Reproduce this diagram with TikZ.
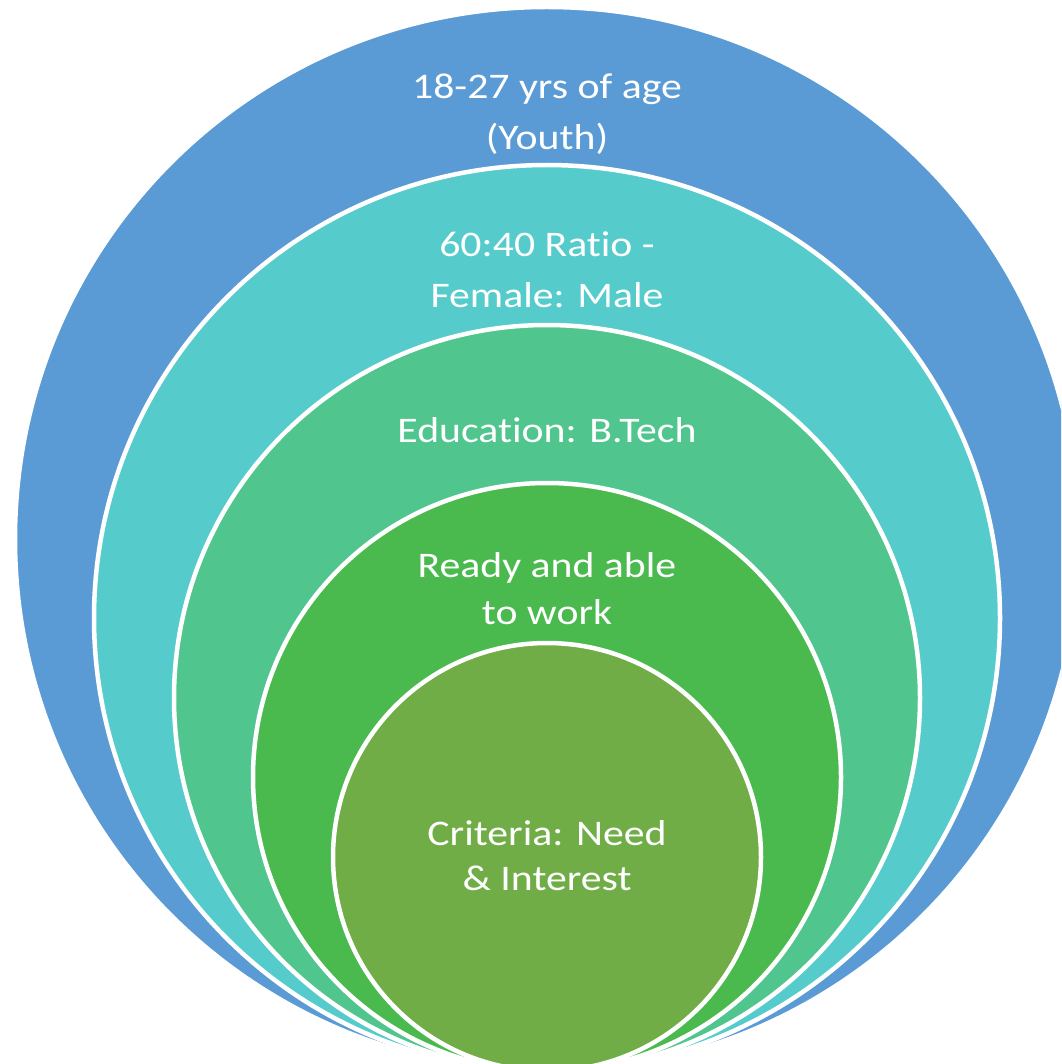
\documentclass[tikz,border=0pt]{standalone}
\usepackage{fontspec}
\setmainfont{Carlito}[Ligatures=NoCommon, FakeStretch=1.16]
\definecolor{cBlue}{HTML}{5B9BD5}
\definecolor{cTeal}{HTML}{55CBCC}
\definecolor{cGreenA}{HTML}{50C58E}
\definecolor{cGreenB}{HTML}{4ABA4F}
\definecolor{cGreenC}{HTML}{70AD47}
\begin{document}
\begin{tikzpicture}[x=1pt,y=-1pt,
  ring/.style={circle, draw=white, line width=4.5pt, inner sep=0pt},
  lbl/.style={text=white, align=center, font=\fontsize{36}{51}\selectfont, anchor=base}]
\useasboundingbox (0,0) rectangle (1061,1064);
\clip (0,0) rectangle (1061,1064);
\node[ring, fill=cBlue,   minimum size=1064pt] (c1) at (547,539) {};
\node[ring, fill=cTeal,   minimum size=906pt]  (c2) at (547,618) {};
\node[ring, fill=cGreenA, minimum size=746pt]  (c3) at (547,698) {};
\node[ring, fill=cGreenB, minimum size=588pt]  (c4) at (547,777) {};
\node[ring, fill=cGreenC, minimum size=428pt]  (c5) at (547,857) {};
\node[lbl] (t1) at (547,150) {18-27 yrs of age\\(Youth)};
\node[lbl] (t2) at (547,307) {60:40 Ratio -\\Female: Male};
\node[lbl] (t3) at (547,442) {Education: B.Tech};
\node[lbl, font=\fontsize{36}{47}\selectfont] (t4) at (547,624) {Ready and able\\to work};
\node[lbl, font=\fontsize{36}{45}\selectfont] (t5) at (547,890) {Criteria: Need\\\& Interest};
\end{tikzpicture}
\end{document}
